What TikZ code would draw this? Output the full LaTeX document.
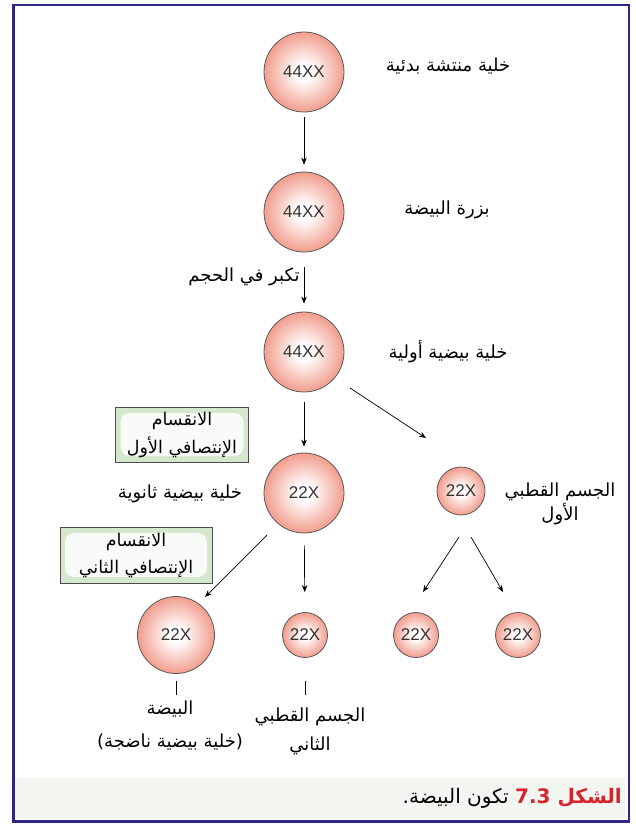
\documentclass[tikz,border=0pt]{standalone}
\usepackage{fontspec}
\usetikzlibrary{arrows.meta,calc}
\TeXXeTstate=1
\newfontfamily\arabicfont[Script=Arabic]{DejaVu Sans}
\newfontfamily\numfont{Liberation Sans}
\definecolor{frameblue}{RGB}{45,40,135}
\definecolor{salmon}{RGB}{238,132,112}
\definecolor{mint}{RGB}{212,232,206}
\definecolor{capbg}{RGB}{243,245,240}
\definecolor{capred}{RGB}{215,35,45}
\pgfdeclareradialshading{cellshade}{\pgfpoint{0bp}{0bp}}{color(0bp)=(white); color(5bp)=(white); color(30bp)=(salmon); color(50bp)=(salmon!90!red)}
\begin{document}
\begin{tikzpicture}[x=1pt,y=-1pt,
  bigcell/.style={circle, draw=black!65, line width=0.8pt, shading=cellshade,
    minimum size=80pt, inner sep=0pt, font=\numfont\fontsize{17}{17}\selectfont, text=black!80},
  smallcell/.style={bigcell, minimum size=45pt},
  lbl/.style={font=\arabicfont\fontsize{18}{24}\selectfont, align=center, inner sep=0pt},
  divbox/.style={lbl, draw=black!70, line width=0.8pt, fill=mint,
    path picture={\fill[white, opacity=0.85, rounded corners=9pt]
      ($(path picture bounding box.south west)+(5,-6)$) rectangle
      ($(path picture bounding box.north east)+(-5,6)$);}},
  arr/.style={-{Stealth[length=7pt,width=5.5pt]}, line width=0.7pt},
  tickline/.style={line width=0.7pt},
  ]
\useasboundingbox (0,0) rectangle (635,825);

% caption band and frame
\fill[capbg] (15,778) rectangle (625,818);
\draw[frameblue, line width=2.5pt] (13.5,5) rectangle (629,821.5);

% cells
\node[bigcell] (c1) at (304,72) {44XX};
\node[bigcell] (c2) at (304,212) {44XX};
\node[bigcell] (c3) at (304,352) {44XX};
\node[bigcell] (c4) at (304,493) {22X};
\node[smallcell, minimum size=48pt] (c5) at (461,491) {22X};
\node[bigcell, minimum size=77pt] (c6) at (176,635) {22X};
\node[smallcell] (c7) at (305,635) {22X};
\node[smallcell] (c8) at (416,635) {22X};
\node[smallcell] (c9) at (518,635) {22X};

% labels
\node[lbl] (l1) at (448,66) {\beginR خلية منتشة بدئية\endR};
\node[lbl] (l2) at (447,210) {\beginR بزرة البيضة\endR};
\node[lbl] (l3) at (244,277) {\beginR تكبر في الحجم\endR};
\node[lbl] (l4) at (448,352) {\beginR خلية بيضية أولية\endR};
\node[lbl] (l5) at (180,494) {\beginR خلية بيضية ثانوية\endR};
\node[lbl] (l6) at (560,504) {\beginR الجسم القطبي\endR\\\beginR الأول\endR};
\node[lbl, font=\arabicfont\fontsize{18}{33}\selectfont] (l7) at (170,725) {\beginR البيضة\endR\\\beginR(خلية بيضية ناضجة)\endR};
\node[lbl, font=\arabicfont\fontsize{18}{29}\selectfont] (l8) at (310,731) {\beginR الجسم القطبي\endR\\\beginR الثاني\endR};

% division boxes
\node[divbox, minimum width=133pt, minimum height=55pt, font=\arabicfont\fontsize{17.5}{28}\selectfont] (b1) at (182,434.5)
  {\beginR الانقسام\endR\\\beginR الإنتصافي الأول\endR};
\node[divbox, minimum width=152pt, minimum height=56pt, font=\arabicfont\fontsize{17.5}{27}\selectfont] (b2) at (136,555)
  {\beginR الانقسام\endR\\\beginR الإنتصافي الثاني\endR};

% vertical arrows
\draw[arr, shorten <=5pt, shorten >=7pt] (c1) -- (c2);
\draw[arr, shorten <=15pt, shorten >=8pt] (c2) -- (c3);
\draw[arr, shorten <=10pt, shorten >=6pt] (c3) -- (c4);
\draw[arr, shorten <=12pt, shorten >=20pt] (c4) -- (c7);

% diagonal arrows
\coordinate (d1s) at (350,388); \coordinate (d1e) at (426,438);
\coordinate (d2s) at (267,535); \coordinate (d2e) at (205,597);
\coordinate (d3s) at (459,537); \coordinate (d3e) at (423,592);
\coordinate (d4s) at (471,537); \coordinate (d4e) at (503,592);
\draw[arr] (d1s) -- (d1e);
\draw[arr] (d2s) -- (d2e);
\draw[arr] (d3s) -- (d3e);
\draw[arr] (d4s) -- (d4e);

% ticks to labels
\coordinate (t1) at (176,695);
\coordinate (t2) at (305,695);
\draw[tickline, shorten <=7pt] (c6) -- (t1);
\draw[tickline, shorten <=23pt] (c7) -- (t2);

% caption
\node[anchor=east, inner sep=0pt, font=\arabicfont\bfseries\fontsize{20}{22}\selectfont, text=capred] (capa) at (622,798)
  {\beginR الشكل \beginL 7.3\endL\endR};
\node[anchor=east, inner sep=0pt, font=\arabicfont\fontsize{20}{22}\selectfont] (capb) at ([xshift=-6pt]capa.west)
  {\beginR تكون البيضة.\endR};
\end{tikzpicture}
\end{document}
